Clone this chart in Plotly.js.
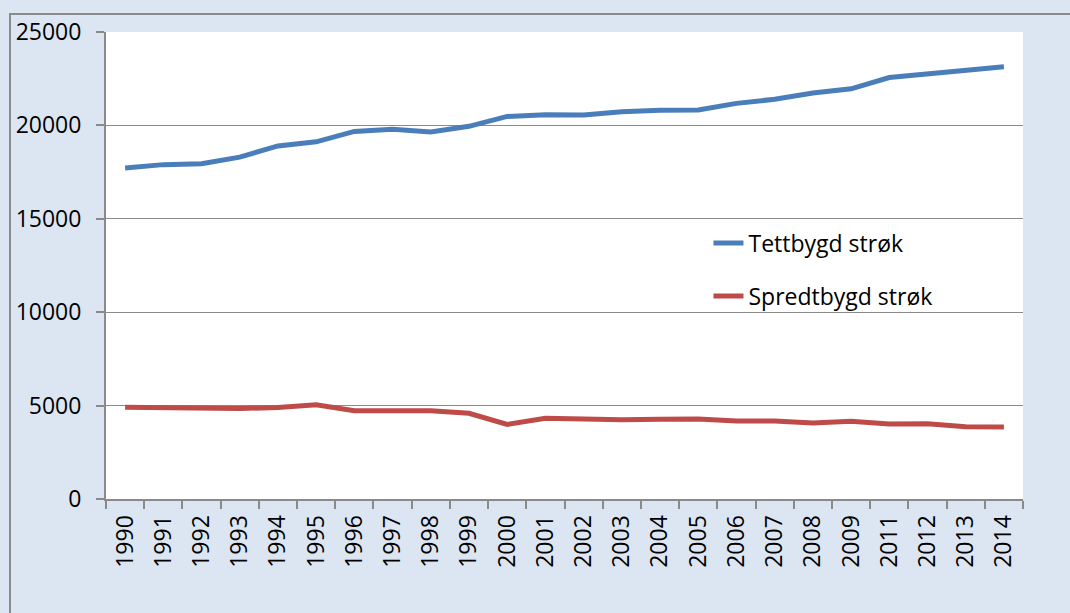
<!DOCTYPE html>
<html>
<head>
<meta charset="utf-8">
<script src="https://cdn.plot.ly/plotly-3.0.1.min.js"></script>
<style>
  html, body { margin: 0; padding: 0; background: #dce6f2; }
  #chart { width: 1070px; height: 613px; }
  #frame { position: absolute; left: 9px; top: 13px; width: 1100px; height: 700px;
           border-left: 2px solid #8a8a8a; border-top: 2px solid #8a8a8a; pointer-events: none; }
</style>
</head>
<body>
<div id="chart"></div>
<div id="frame"></div>
<script>
const years = ["1990","1991","1992","1993","1994","1995","1996","1997","1998","1999",
               "2000","2001","2002","2003","2004","2005","2006","2007","2008","2009",
               "2011","2012","2013","2014"];
const tettbygd = [17720, 17900, 17950, 18300, 18900, 19120, 19680, 19800, 19650, 19950,
                  20480, 20570, 20560, 20730, 20810, 20820, 21180, 21400, 21730, 21960,
                  22560, 22760, 22950, 23140];
const spredtbygd = [4910, 4890, 4860, 4840, 4900, 5040, 4730, 4700, 4730, 4590,
                    3990, 4320, 4260, 4240, 4270, 4280, 4180, 4180, 4070, 4160,
                    4010, 4030, 3870, 3850];
const seriesNames = ["Tettbygd strøk", "Spredtbygd strøk"];
const yTicks = [0, 5000, 10000, 15000, 20000, 25000];

const FONT = "Open Sans, Noto Sans, Liberation Sans, sans-serif";

const traces = [
  { x: years, y: tettbygd, name: seriesNames[0], type: "scatter", mode: "lines",
    line: { color: "#4a7ebb", width: 5 }, legendgroup: "a" },
  { x: years, y: spredtbygd, name: seriesNames[1], type: "scatter", mode: "lines",
    line: { color: "#be4b48", width: 5 }, legendgroup: "b" }
];

const layout = {
  width: 1070, height: 613,
  margin: { l: 106, r: 47, t: 32, b: 114, pad: 0 },
  paper_bgcolor: "#dce6f2",
  plot_bgcolor: "#ffffff",
  font: { family: FONT, size: 23, color: "#000000" },
  showlegend: true,
  legend: {
    x: 0.657, y: 0.594, xanchor: "left", yanchor: "top",
    bgcolor: "rgba(0,0,0,0)", borderwidth: 0,
    font: { family: FONT, size: 23, color: "#000" },
    traceorder: "grouped", tracegroupgap: 20
  },
  xaxis: {
    type: "category",
    tickmode: "array", tickvals: years, ticktext: years,
    tickangle: -90,
    tickson: "boundaries",
    ticks: "outside", ticklen: 8, tickwidth: 2, tickcolor: "#8a8a8a",
    showline: true, linecolor: "#8a8a8a", linewidth: 2,
    showgrid: false, zeroline: false,
    ticklabelstandoff: 5,
    tickfont: { family: FONT, size: 23, color: "#000" },
    range: [-0.5, years.length - 0.5]
  },
  yaxis: {
    range: [0, 25000],
    tickmode: "array", tickvals: yTicks, ticktext: yTicks.map(String),
    ticks: "outside", ticklen: 8, tickwidth: 2, tickcolor: "#8a8a8a",
    showline: true, linecolor: "#8a8a8a", linewidth: 2,
    showgrid: true, gridcolor: "#8a8a8a", gridwidth: 1.3,
    zeroline: false,
    ticklabelstandoff: 10,
    tickfont: { family: FONT, size: 23, color: "#000" }
  }
};

Plotly.newPlot("chart", traces, layout, { staticPlot: true, displayModeBar: false });
</script>
</body>
</html>
